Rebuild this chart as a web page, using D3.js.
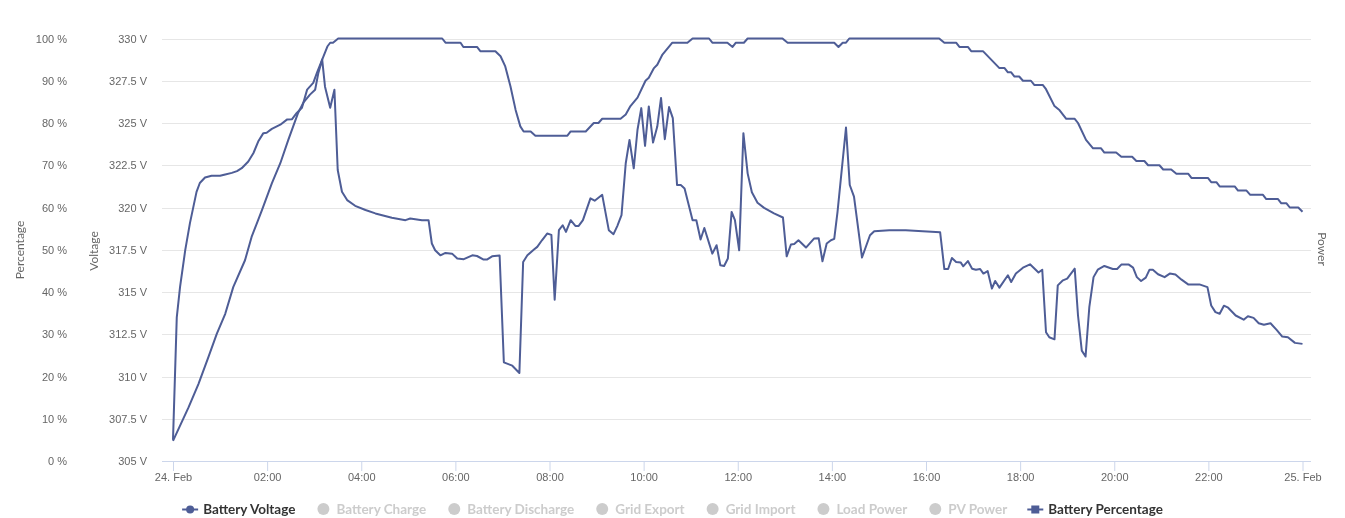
<!DOCTYPE html>
<html>
<head>
<meta charset="utf-8">
<script src="https://cdn.jsdelivr.net/npm/d3@7"></script>
<style>
  body { margin: 0; background: #fff; }
  svg { font-family: Lato, "Open Sans", sans-serif; display: block; will-change: transform; }
</style>
</head>
<body>
<svg id="chart" width="1345" height="518"></svg>
<script>
// Battery percentage, [hours since 24 Feb 00:00, %]
const percentData = [
  [0, 5], [0.08, 34], [0.15, 41.2], [0.26, 49.9], [0.36, 56.3], [0.5, 63.7], [0.57, 65.8],
  [0.68, 67.1], [0.82, 67.5], [1.0, 67.5], [1.11, 67.8], [1.25, 68.2], [1.36, 68.6],
  [1.46, 69.3], [1.6, 70.9], [1.71, 72.9], [1.81, 75.6], [1.92, 77.6], [1.99, 77.7],
  [2.1, 78.6], [2.28, 79.6], [2.42, 80.8], [2.53, 80.9], [2.63, 82.4], [2.74, 83.6],
  [2.85, 87.9], [2.98, 89.5], [3.06, 91.9], [3.17, 95], [3.28, 98.1], [3.34, 99], [3.4, 99],
  [3.51, 100], [5.72, 100], [5.79, 99], [6.11, 99], [6.17, 98], [6.46, 98], [6.53, 97],
  [6.85, 97], [6.96, 95.8], [7.06, 93.4], [7.17, 88.7], [7.28, 83.1], [7.38, 79.2],
  [7.45, 78], [7.6, 78], [7.7, 77], [8.38, 77], [8.45, 78], [8.77, 78], [8.94, 80],
  [9.04, 80], [9.12, 81], [9.51, 81], [9.62, 82], [9.72, 84], [9.87, 86], [10.04, 90],
  [10.11, 90.7], [10.22, 93], [10.29, 93.8], [10.4, 96.2], [10.61, 99], [10.93, 99],
  [11.04, 100], [11.39, 100], [11.46, 99], [11.78, 99], [11.89, 98], [11.96, 99],
  [12.13, 99], [12.21, 100], [12.95, 100], [13.06, 99], [14.05, 99], [14.14, 98],
  [14.23, 99], [14.3, 99], [14.37, 100], [16.28, 100], [16.39, 99], [16.64, 99],
  [16.71, 98], [16.89, 98], [16.96, 97], [17.21, 97], [17.56, 93], [17.67, 93],
  [17.74, 92], [17.81, 92], [17.88, 91], [17.98, 91], [18.06, 90], [18.23, 90],
  [18.3, 89], [18.48, 89], [18.55, 88], [18.73, 84], [18.84, 83], [18.98, 81],
  [19.16, 81], [19.23, 80], [19.4, 76], [19.55, 74], [19.72, 74], [19.79, 73],
  [20.04, 73], [20.15, 72], [20.38, 72], [20.47, 71], [20.64, 71], [20.72, 70],
  [20.96, 70], [21.04, 69], [21.21, 69], [21.32, 68], [21.57, 68], [21.64, 67],
  [21.99, 67], [22.06, 66], [22.17, 66], [22.24, 65], [22.56, 65], [22.63, 64],
  [22.81, 64], [22.89, 63], [23.16, 63], [23.23, 62], [23.48, 62], [23.55, 61],
  [23.66, 61], [23.73, 60], [23.91, 60], [24.0, 59]
];

// Battery voltage, [hours since 24 Feb 00:00, V]
const voltageData = [
  [0, 306.19], [0.33, 308.17], [0.54, 309.55], [0.75, 311.13], [0.93, 312.52],
  [1.11, 313.71], [1.28, 315.29], [1.53, 316.88], [1.67, 318.26], [1.89, 319.85],
  [2.1, 321.43], [2.28, 322.62], [2.45, 324.0], [2.55, 324.77], [2.66, 325.61],
  [2.77, 326.2], [2.91, 326.68], [3.02, 326.97], [3.09, 327.98], [3.17, 328.75],
  [3.23, 327.15], [3.34, 325.9], [3.43, 326.97], [3.5, 322.22], [3.59, 320.93],
  [3.7, 320.44], [3.87, 320.1], [4.09, 319.85], [4.3, 319.65], [4.65, 319.39],
  [4.94, 319.25], [5.04, 319.35], [5.29, 319.25], [5.43, 319.25], [5.5, 317.87],
  [5.57, 317.47], [5.68, 317.17], [5.79, 317.31], [5.93, 317.27], [6.04, 316.98],
  [6.18, 316.94], [6.36, 317.17], [6.46, 317.13], [6.6, 316.92], [6.67, 316.92],
  [6.78, 317.11], [6.94, 317.16], [7.03, 310.84], [7.21, 310.64], [7.36, 310.21],
  [7.44, 316.78], [7.53, 317.17], [7.67, 317.51], [7.74, 317.67], [7.84, 318.06],
  [7.95, 318.46], [8.04, 318.38], [8.11, 314.54], [8.2, 318.66], [8.28, 318.95],
  [8.35, 318.56], [8.45, 319.25], [8.55, 318.91], [8.62, 318.91], [8.71, 319.25],
  [8.87, 320.54], [8.96, 320.4], [9.12, 320.75], [9.26, 318.66], [9.36, 318.42],
  [9.44, 318.9], [9.53, 319.55], [9.62, 322.62], [9.7, 324.0], [9.79, 322.32],
  [9.87, 324.6], [9.95, 325.88], [10.03, 323.65], [10.11, 325.98], [10.2, 323.84],
  [10.29, 324.79], [10.37, 326.48], [10.45, 324.04], [10.54, 325.94], [10.62, 325.29],
  [10.71, 321.33], [10.79, 321.33], [10.87, 321.13], [11.04, 319.25], [11.12, 319.25],
  [11.21, 318.11], [11.29, 318.79], [11.46, 317.27], [11.55, 317.77], [11.63, 316.58],
  [11.71, 316.54], [11.79, 316.98], [11.87, 319.74], [11.94, 319.25], [12.03, 317.47],
  [12.12, 324.4], [12.21, 322.02], [12.3, 320.9], [12.42, 320.28], [12.56, 319.98],
  [12.77, 319.65], [12.96, 319.41], [13.04, 317.11], [13.13, 317.81], [13.2, 317.84],
  [13.29, 318.06], [13.45, 317.63], [13.62, 318.16], [13.72, 318.18], [13.8, 316.82],
  [13.89, 317.87], [13.98, 318.06], [14.05, 318.14], [14.12, 319.74], [14.3, 324.73],
  [14.38, 321.33], [14.47, 320.64], [14.64, 317.04], [14.81, 318.36], [14.9, 318.6],
  [15.22, 318.66], [15.57, 318.66], [15.93, 318.6], [16.3, 318.54], [16.39, 316.36],
  [16.47, 316.36], [16.55, 317.01], [16.64, 316.78], [16.74, 316.74], [16.79, 316.52],
  [16.89, 316.83], [16.98, 316.38], [17.06, 316.32], [17.15, 316.36], [17.22, 316.09],
  [17.31, 316.24], [17.4, 315.2], [17.47, 315.65], [17.56, 315.26], [17.74, 315.99],
  [17.81, 315.59], [17.91, 316.09], [18.06, 316.44], [18.21, 316.64], [18.39, 316.15],
  [18.47, 316.32], [18.55, 312.62], [18.62, 312.32], [18.73, 312.2], [18.8, 315.39],
  [18.91, 315.69], [19.0, 315.79], [19.16, 316.38], [19.23, 313.61], [19.31, 311.53],
  [19.39, 311.18], [19.47, 314.1], [19.56, 315.88], [19.65, 316.32], [19.79, 316.54],
  [19.97, 316.36], [20.06, 316.36], [20.15, 316.62], [20.31, 316.62], [20.4, 316.44],
  [20.48, 315.88], [20.57, 315.65], [20.67, 315.85], [20.75, 316.32], [20.82, 316.32],
  [20.93, 316.05], [21.07, 315.88], [21.18, 316.09], [21.3, 316.03], [21.43, 315.73],
  [21.57, 315.45], [21.81, 315.45], [21.98, 315.29], [22.06, 314.2], [22.15, 313.81],
  [22.24, 313.71], [22.33, 314.19], [22.42, 314.07], [22.58, 313.61], [22.75, 313.36],
  [22.84, 313.57], [22.96, 313.47], [23.07, 313.15], [23.18, 313.06], [23.32, 313.15],
  [23.45, 312.76], [23.57, 312.36], [23.69, 312.32], [23.84, 311.99], [24.0, 311.93]
];

const percentTicks = [0, 10, 20, 30, 40, 50, 60, 70, 80, 90, 100];
const voltageTicks = [305, 307.5, 310, 312.5, 315, 317.5, 320, 322.5, 325, 327.5, 330];
const hourTicks = [0, 2, 4, 6, 8, 10, 12, 14, 16, 18, 20, 22, 24];

const legendNames = ["Battery Voltage", "Battery Charge", "Battery Discharge", "Grid Export",
  "Grid Import", "Load Power", "PV Power", "Battery Percentage"];
const legendVisible = [true, false, false, false, false, false, false, true];
const legendSymbols = ["circle", "dot", "dot", "dot", "dot", "dot", "dot", "square"];

const lineColor = "#4e5d96";
const W = 1345, plotLeft = 162, plotRight = 1311, plotTop = 38.5, plotBottom = 461;

const svg = d3.select("#chart");
const day0 = new Date(2024, 1, 24);
const toDate = h => new Date(day0.getTime() + h * 3600e3);

const x = d3.scaleTime().domain([toDate(0), toDate(24)]).range([173, 1302.5]);
const yPct = d3.scaleLinear().domain([0, 100]).range([plotBottom, plotTop]);
const yVolt = d3.scaleLinear().domain([305, 330]).range([plotBottom, plotTop]);

// grid lines
svg.append("g").selectAll("line")
  .data(percentTicks.slice(1))
  .join("line")
  .attr("x1", plotLeft).attr("x2", plotRight)
  .attr("y1", d => Math.round(yPct(d)) + 0.5).attr("y2", d => Math.round(yPct(d)) + 0.5)
  .attr("stroke", "#e6e6e6");

// left axes (labels only)
const pctAxis = svg.append("g").attr("transform", "translate(67,0)")
  .call(d3.axisLeft(yPct).tickValues(percentTicks).tickSize(0).tickPadding(0).tickFormat(d => d + " %"));
const voltAxis = svg.append("g").attr("transform", "translate(147,0)")
  .call(d3.axisLeft(yVolt).tickValues(voltageTicks).tickSize(0).tickPadding(0).tickFormat(d => d + " V"));
[pctAxis, voltAxis].forEach(g => {
  g.select(".domain").remove();
  g.selectAll("text").attr("fill", "#666").attr("font-size", 11).attr("font-family", null);
});

// x axis
const fmtDay = d3.timeFormat("%-d. %b"), fmtHour = d3.timeFormat("%H:%M");
const xAxis = svg.append("g").attr("transform", `translate(0,${plotBottom})`)
  .call(d3.axisBottom(x).tickValues(hourTicks.map(toDate)).tickSize(10).tickPadding(2)
    .tickFormat(d => d.getHours() === 0 ? fmtDay(d) : fmtHour(d)));
xAxis.select(".domain").remove();
xAxis.selectAll(".tick line").attr("stroke", "#ccd6eb");
xAxis.selectAll("text").attr("fill", "#666").attr("font-size", 11).attr("font-family", null);
svg.append("line").attr("x1", plotLeft).attr("x2", plotRight)
  .attr("y1", plotBottom + 0.5).attr("y2", plotBottom + 0.5).attr("stroke", "#ccd6eb");

// axis titles
svg.append("text").attr("transform", "translate(24,250) rotate(-90)")
  .attr("text-anchor", "middle").attr("fill", "#666").attr("font-size", 12).text("Percentage");
svg.append("text").attr("transform", "translate(98,251) rotate(-90)")
  .attr("text-anchor", "middle").attr("fill", "#666").attr("font-size", 12).text("Voltage");
svg.append("text").attr("transform", "translate(1318,249) rotate(90)")
  .attr("text-anchor", "middle").attr("fill", "#666").attr("font-size", 12).text("Power");

// series
const pctLine = d3.line().x(d => x(toDate(d[0]))).y(d => yPct(d[1]));
const voltLine = d3.line().x(d => x(toDate(d[0]))).y(d => yVolt(d[1]));
svg.append("path").datum(voltageData).attr("d", voltLine)
  .attr("fill", "none").attr("stroke", lineColor).attr("stroke-width", 2).attr("stroke-linejoin", "round");
svg.append("path").datum(percentData).attr("d", pctLine)
  .attr("fill", "none").attr("stroke", lineColor).attr("stroke-width", 2).attr("stroke-linejoin", "round");

// legend
const legend = svg.append("g").attr("transform", "translate(0,509)");
const items = legend.selectAll("g").data(legendNames).join("g");
items.append("text")
  .attr("x", 21).attr("dy", "0.35em")
  .attr("font-size", 13.5).attr("font-weight", 700)
  .attr("fill", (d, i) => legendVisible[i] ? "#333" : "#ccc")
  .text(d => d);
items.each(function (d, i) {
  const g = d3.select(this);
  if (legendSymbols[i] === "dot") {
    g.append("circle").attr("cx", 8).attr("cy", 0).attr("r", 6).attr("fill", "#ccc");
  } else {
    g.append("line").attr("x1", 0).attr("x2", 16).attr("y1", 0.5).attr("y2", 0.5)
      .attr("stroke", lineColor).attr("stroke-width", 2);
    if (legendSymbols[i] === "circle") {
      g.append("circle").attr("cx", 8).attr("cy", 0.5).attr("r", 4).attr("fill", lineColor);
    } else {
      g.append("rect").attr("x", 4).attr("y", -3.5).attr("width", 8).attr("height", 8).attr("fill", lineColor);
    }
  }
});
const widths = [];
items.select("text").each(function () { widths.push(21 + this.getComputedTextLength()); });
const total = d3.sum(widths) + 20 * (widths.length - 1);
let cx = (W - total) / 2;
items.attr("transform", (d, i) => {
  const t = `translate(${cx},0)`;
  cx += widths[i] + 20;
  return t;
});
</script>
</body>
</html>
